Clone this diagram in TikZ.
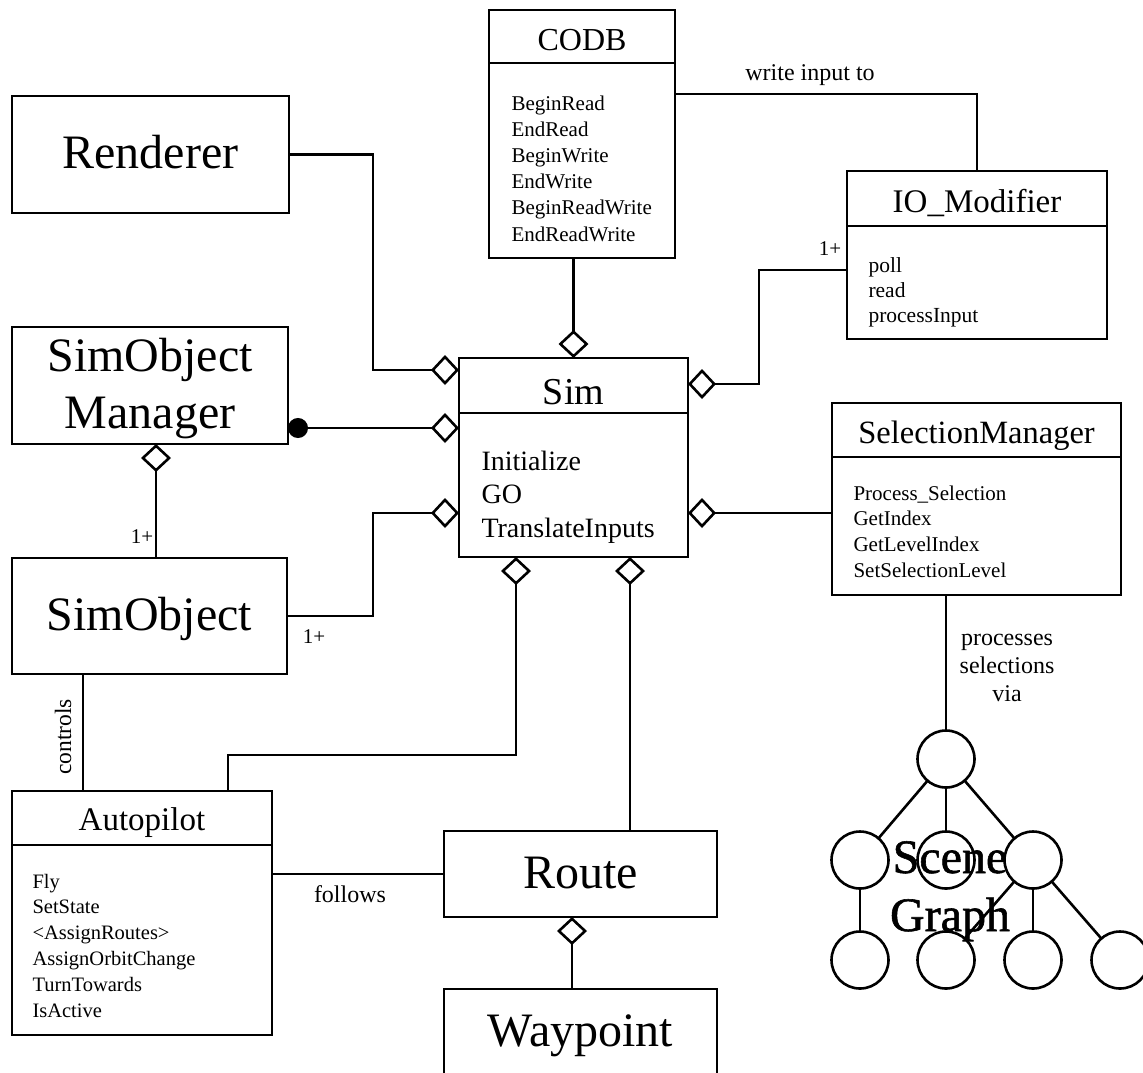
\documentclass[tikz,border=0pt]{standalone}
\usepackage{fontspec}
\setmainfont{Liberation Serif}
\newfontfamily\heavyserif[FakeBold=1.2]{Liberation Serif}
\usetikzlibrary{arrows.meta}
\begin{document}
\begin{tikzpicture}[x=1pt,y=-1pt,
  box/.style={draw, line width=2.7pt, inner sep=0pt, outer sep=0pt},
  divider/.style={line width=2.7pt},
  conn/.style={line width=2.6pt},
  agg/.style={{Diamond[open,length=28pt,width=30pt]}-},
  aggdot/.style={{Diamond[open,length=28pt,width=30pt]}-{Circle[length=20pt]}},
  big/.style={font=\fontsize{48}{56}\selectfont, anchor=base},
  sgtext/.style={font=\heavyserif\fontsize{48}{56}\selectfont, anchor=base},
  head/.style={font=\fontsize{#1}{#1}\selectfont, anchor=base},
  item/.style={font=\fontsize{#1}{#1}\selectfont, anchor=base west},
  lbl/.style={font=\fontsize{24}{28}\selectfont, anchor=base},
  mult/.style={font=\fontsize{21}{25}\selectfont, anchor=base},
  sg/.style={draw, circle, line width=2.6pt, minimum size=57pt, inner sep=0pt, outer sep=0pt},
]
\useasboundingbox (0,0) rectangle (1143,1072);
\fill[white] (0,0) rectangle (1143,1072);
\clip (0,0) rectangle (1143,1072);

% ---------- class boxes ----------
\node[box, minimum width=277pt, minimum height=117pt] (rend) at (150.5,154.5) {};
\node[big] (rendT) at (150.5,168) {Renderer};

\node[box, minimum width=186pt, minimum height=248pt] (codb) at (582,134) {};
\draw[divider] (codb.west |- 0,63) -- (codb.east |- 0,63);
\node[head=32] (codbT) at (582,50) {CODB};
\foreach \t [count=\i from 0] in {BeginRead,EndRead,BeginWrite,EndWrite,BeginReadWrite,EndReadWrite}
  \node[item=21] (codbM\i) at (508,110+26.2*\i) {\t};

\node[box, minimum width=260pt, minimum height=168pt] (io) at (977,255) {};
\draw[divider] (io.west |- 0,226) -- (io.east |- 0,226);
\node[head=33] (ioT) at (977,212) {IO\_Modifier};
\foreach \t [count=\i from 0] in {poll,read,processInput}
  \node[item=21.5] (ioM\i) at (865,272+25*\i) {\t};

\node[box, minimum width=229pt, minimum height=199pt] (sim) at (573.5,457.5) {};
\draw[divider] (sim.west |- 0,413) -- (sim.east |- 0,413);
\node[head=38] (simT) at (573.5,404) {Sim};
\foreach \t [count=\i from 0] in {Initialize,GO,TranslateInputs}
  \node[item=28] (simM\i) at (478,470+33.5*\i) {\t};

\node[box, minimum width=276pt, minimum height=117pt] (som) at (150,385.5) {};
\node[big] (somT1) at (150,371) {SimObject};
\node[big] (somT2) at (150,428) {Manager};

\node[box, minimum width=275pt, minimum height=116pt] (simobj) at (149.5,616) {};
\node[big] (simobjT) at (149.5,630) {SimObject};

\node[box, minimum width=289pt, minimum height=192pt] (selm) at (976.5,499) {};
\draw[divider] (selm.west |- 0,457) -- (selm.east |- 0,457);
\node[head=32.5] (selmT) at (976.5,443) {SelectionManager};
\foreach \t [count=\i from 0] in {Process\_Selection,GetIndex,GetLevelIndex,SetSelectionLevel}
  \node[item=21] (selmM\i) at (850,500+25.7*\i) {\t};

\node[box, minimum width=260pt, minimum height=244pt] (auto) at (142,913) {};
\draw[divider] (auto.west |- 0,845) -- (auto.east |- 0,845);
\node[head=33] (autoT) at (142,830) {Autopilot};
\foreach \t [count=\i from 0] in {Fly,SetState,<AssignRoutes>,AssignOrbitChange,TurnTowards,IsActive}
  \node[item=20.5] (autoM\i) at (29,888+25.8*\i) {\t};

\node[box, minimum width=273pt, minimum height=86pt] (route) at (580.5,874) {};
\node[big] (routeT) at (580.5,888) {Route};

\node[box, minimum width=273pt, minimum height=111pt] (wp) at (580.5,1044.5) {};
\node[big] (wpT) at (580.5,1046) {Waypoint};

% ---------- scene graph ----------
\node[sg] (r)  at (946,759) {};
\node[sg] (a)  at (860,860) {};
\node[sg] (b)  at (946,860) {};
\node[sg] (c)  at (1033,860) {};
\node[sg] (a1) at (860,960) {};
\node[sg] (b1) at (946,960) {};
\node[sg] (c1) at (1033,960) {};
\node[sg] (d1) at (1120,960) {};
\draw[conn] (r) -- (a);
\draw[conn] (r) -- (b);
\draw[conn] (r) -- (c);
\draw[conn] (a) -- (a1);
\draw[conn] (c) -- (b1);
\draw[conn] (c) -- (c1);
\draw[conn] (c) -- (d1);
\node[sgtext] (sgT1) at (950,873) {Scene};
\node[sgtext] (sgT2) at (950,931) {Graph};

% ---------- attachment points ----------
\coordinate (pRend) at (459,370);
\coordinate (pSom)  at (459,428);
\coordinate (pObj)  at (459,513);
\coordinate (pIO)   at (688,384);
\coordinate (pSel)  at (688,513);
\coordinate (pAuto) at (516,557);
\coordinate (pRte)  at (630,557);
\coordinate (ioW)   at (847,270);
\coordinate (codbE) at (675,94);
\coordinate (autoN) at (228,791);
\coordinate (rteS)  at (572,917);

% ---------- connectors ----------
\draw[conn,agg] (pRend) -- ++(-86,0) |- (rend.east);
\draw[conn,aggdot] (pSom) -- (som.east |- pSom);
\draw[conn,agg] (pObj) -- ++(-86,0) |- (simobj.east);
\draw[conn,agg] (sim.north) -- (sim.north |- codb.south);
\draw[conn,agg] (pIO) -- ++(71,0) |- (ioW);
\draw[conn,agg] (pSel) -- (selm.west |- pSel);
\draw[conn] (codbE) -| (io.north);
\draw[conn,agg] (pAuto) -- ++(0,198) -| (autoN);
\draw[conn,agg] (pRte) -- (route.north -| pRte);
\draw[conn] (auto.east |- route.west) -- (route.west);
\draw[conn,agg] (rteS) -- (wp.north -| rteS);
\draw[conn] (simobj.south -| 83,0) -- (auto.north -| 83,0);
\draw[conn,agg] (som.south -| 156,0) -- (simobj.north -| 156,0);
\draw[conn] (r.north |- selm.south) -- (r);

% ---------- labels ----------
\node[lbl] (lWrite) at (810,80) {write input to};
\node[mult] (mIO) at (830,255) {1+};
\node[mult] (mSom) at (142,543) {1+};
\node[mult] (mObj) at (314,643) {1+};
\node[lbl] (lFollow) at (350,902) {follows};
\node[lbl] (lProc1) at (1007,645) {processes};
\node[lbl] (lProc2) at (1007,673) {selections};
\node[lbl] (lProc3) at (1007,701) {via};
\node[lbl, font=\fontsize{23.5}{28}\selectfont, rotate=90] (lCtrl) at (71,737) {controls};
\end{tikzpicture}
\end{document}
